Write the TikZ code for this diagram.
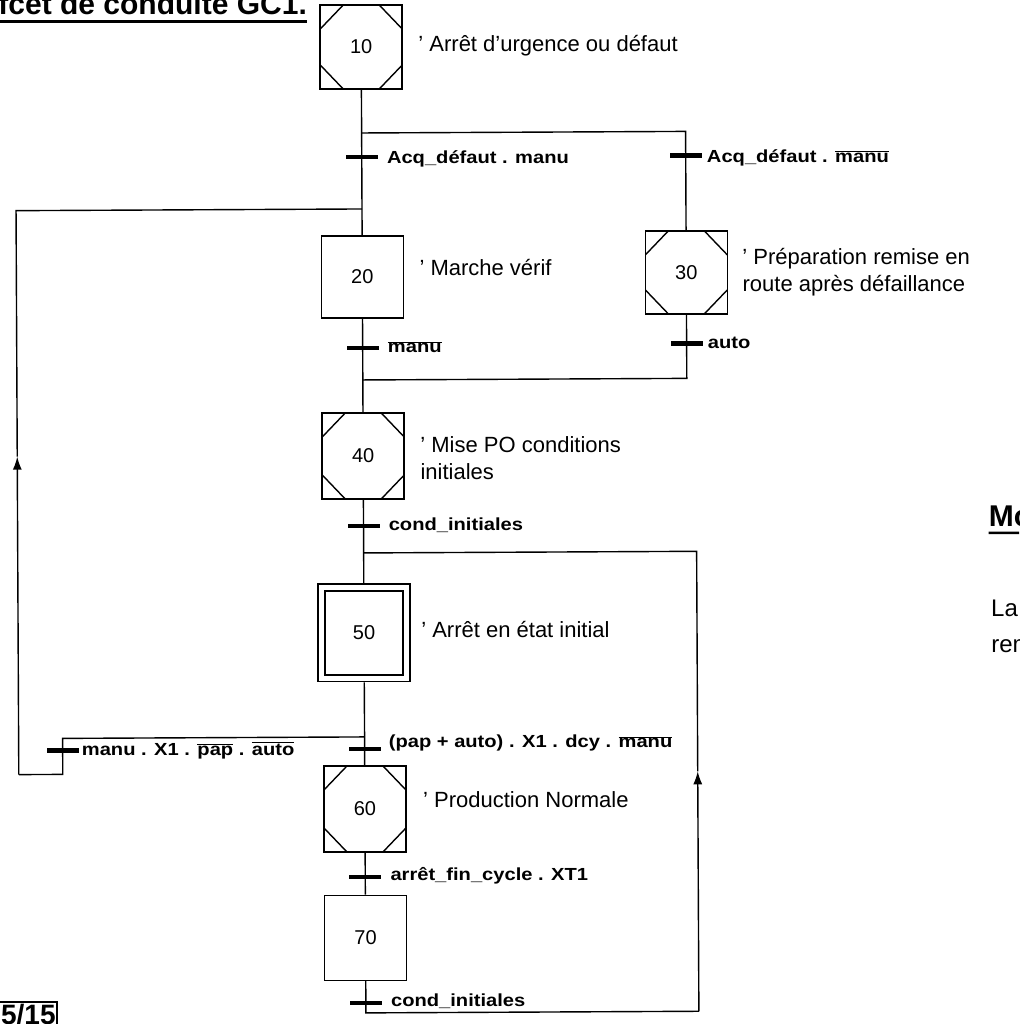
\documentclass[tikz,border=0pt]{standalone}
\usepackage{fontspec}
\setmainfont{Liberation Sans}
\newfontfamily\tfont[FakeStretch=1.15]{Liberation Sans}
\usetikzlibrary{arrows.meta,fit}
\begin{document}
\begin{tikzpicture}[x=1pt,y=-1pt,
  link/.style={line width=1.4pt},
  stepbox/.style={draw,line width=1.6pt,minimum width=82pt,minimum height=84pt,inner sep=0pt,font=\fontsize{20}{22}\selectfont},
  macrostep/.style={stepbox,path picture={
     \draw[line width=1.4pt]
      ([xshift=23pt]path picture bounding box.north west) -- ([yshift=-24pt]path picture bounding box.north west)
      ([xshift=-23pt]path picture bounding box.north east) -- ([yshift=-24pt]path picture bounding box.north east)
      ([xshift=23pt]path picture bounding box.south west) -- ([yshift=24pt]path picture bounding box.south west)
      ([xshift=-23pt]path picture bounding box.south east) -- ([yshift=24pt]path picture bounding box.south east);}},
  tbar/.style={fill=black,minimum width=32pt,minimum height=4.5pt,inner sep=0pt},
  tlabel/.style={anchor=base west,font=\tfont\bfseries\fontsize{17.5}{20}\selectfont,inner sep=0pt},
  action/.style={anchor=base west,font=\fontsize{22}{27}\selectfont,inner sep=0pt},
  arr/.style={link,-{Latex[length=13pt,width=9pt]}}
]
\useasboundingbox (0,0) rectangle (1019,1024);
\clip (0,0) rectangle (1019,1024);
\begin{scope}[rotate around={0.28:(361,0)}]
% title and page texts
\node[font=\fontsize{30}{36}\selectfont\bfseries,anchor=base east,inner sep=0pt] (title) at (307,14) {Grafcet de conduite GC1.};
\draw[line width=2.5pt] ([yshift=-7pt]title.base west) -- ([yshift=-7pt]title.base east);
\node[draw,line width=1.6pt,font=\fontsize{28}{32}\selectfont\bfseries,anchor=north east,inner sep=1.5pt] (pg) at (53,1000) {5/15};
\node[font=\fontsize{30}{36}\selectfont\bfseries,anchor=base west,inner sep=0pt] (mo) at (986,530) {Mo};
\draw[line width=2.5pt] ([yshift=-6pt]mo.base west) -- ([yshift=-6pt,xshift=20pt]mo.base east);
\node[font=\fontsize{24}{28}\selectfont,anchor=base west,inner sep=0pt] (la) at (988,620) {La};
\node[font=\fontsize{24}{28}\selectfont,anchor=base west,inner sep=0pt] (rem) at (988,656) {rem};

% steps and transitions
\node[macrostep] (s10) at (361,47) {10};
\node[action] (a10) at (418,52) {’ Arrêt d’urgence ou défaut};
\coordinate (d1) at (361,133);
\coordinate (d1r) at (685,133);
\node[tbar] (t1) at (361,157) {};
\node[tlabel] (l1) at (386,164) {Acq\_défaut . manu};
\node[tbar] (t2) at (685,157) {};
\node[tlabel] (l2) at (706,164) {Acq\_défaut . $\overline{\mbox{manu}}$};
\coordinate (m1) at (361,209);
\node[stepbox,minimum height=82pt] (s20) at (361,277) {20};
\node[action] (a20) at (418,276) {’ Marche vérif};
\node[macrostep,minimum height=83pt] (s30) at (685,274) {30};
\node[action] (a30a) at (741,266) {’ Préparation remise en};
\node[action] (a30b) at (741,293) {route après défaillance};
\node[tbar] (t3) at (361,348) {};
\node[tlabel] (l3) at (386,353) {$\overline{\mbox{manu}}$};
\node[tbar] (t4) at (685,345) {};
\node[tlabel] (l4) at (706,350) {auto};
\coordinate (c1) at (361,380);
\coordinate (c1r) at (685,380);
\node[macrostep,minimum height=86pt] (s40) at (361,456) {40};
\node[action] (a40a) at (418,453) {’ Mise PO conditions};
\node[action] (a40b) at (418,480) {initiales};
\node[tbar] (t5) at (361,526) {};
\node[tlabel] (l5) at (386,531) {cond\_initiales};
\coordinate (r1) at (361,553);
\coordinate (r1r) at (694,553);
\node[stepbox,minimum width=78pt,minimum height=84pt] (s50) at (361,633) {50};
\node[draw,line width=1.6pt,fit=(s50),inner sep=6pt] (s50o) {};
\node[action] (a50) at (418,638) {’ Arrêt en état initial};
\coordinate (d5) at (361,737);
\coordinate (d5l) at (59,737);
\node[tbar] (t6) at (59,749) {};
\node[tlabel] (l6) at (78,754) {manu . X1 . $\overline{\mbox{pap}}$ . $\overline{\mbox{auto}}$};
\coordinate (b6) at (59,773);
\coordinate (b6l) at (15,773);
\coordinate (aL) at (15,455);
\coordinate (m1l) at (15,209);
\node[tbar] (t7) at (361,749) {};
\node[tlabel] (l7) at (385,748) {(pap + auto) . X1 . dcy . $\overline{\mbox{manu}}$};
\node[macrostep,minimum height=86pt] (s60) at (361,809) {60};
\node[action] (a60) at (419,808) {’ Production Normale};
\node[tbar] (t8) at (361,877) {};
\node[tlabel] (l8) at (386,881) {arrêt\_fin\_cycle . XT1};
\node[stepbox,minimum height=85pt] (s70) at (361,938) {70};
\node[tbar] (t9) at (361,1003) {};
\node[tlabel] (l9) at (386,1007) {cond\_initiales};
\coordinate (b9) at (361,1013);
\coordinate (b9r) at (694,1013);
\coordinate (aR) at (694,773);

% links
\draw[link] (s10) -- (d1) -- (t1.center) -- (s20);
\draw[link] (d1) -- (d1r) -- (t2.center) -- (s30);
\draw[link] (s20) -- (t3.center) -- (c1) -- (s40);
\draw[link] (s30) -- (t4.center) -- (c1r) -- (c1);
\draw[link] (s40) -- (t5.center) -- (s50o);
\draw[link] (s50o) -- (d5) -- (t7.center) -- (s60);
\draw[link] (d5) -- (d5l) -- (t6.center) -- (b6) -- (b6l);
\draw[arr] (b6l) -- (aL);
\draw[link] (aL) -- (m1l) -- (m1);
\draw[link] (s60) -- (t8.center) -- (s70);
\draw[link] (s70) -- (t9.center) -- (b9) -- (b9r);
\draw[arr] (b9r) -- (aR);
\draw[link] (aR) -- (r1r) -- (r1);
\end{scope}
\end{tikzpicture}
\end{document}
